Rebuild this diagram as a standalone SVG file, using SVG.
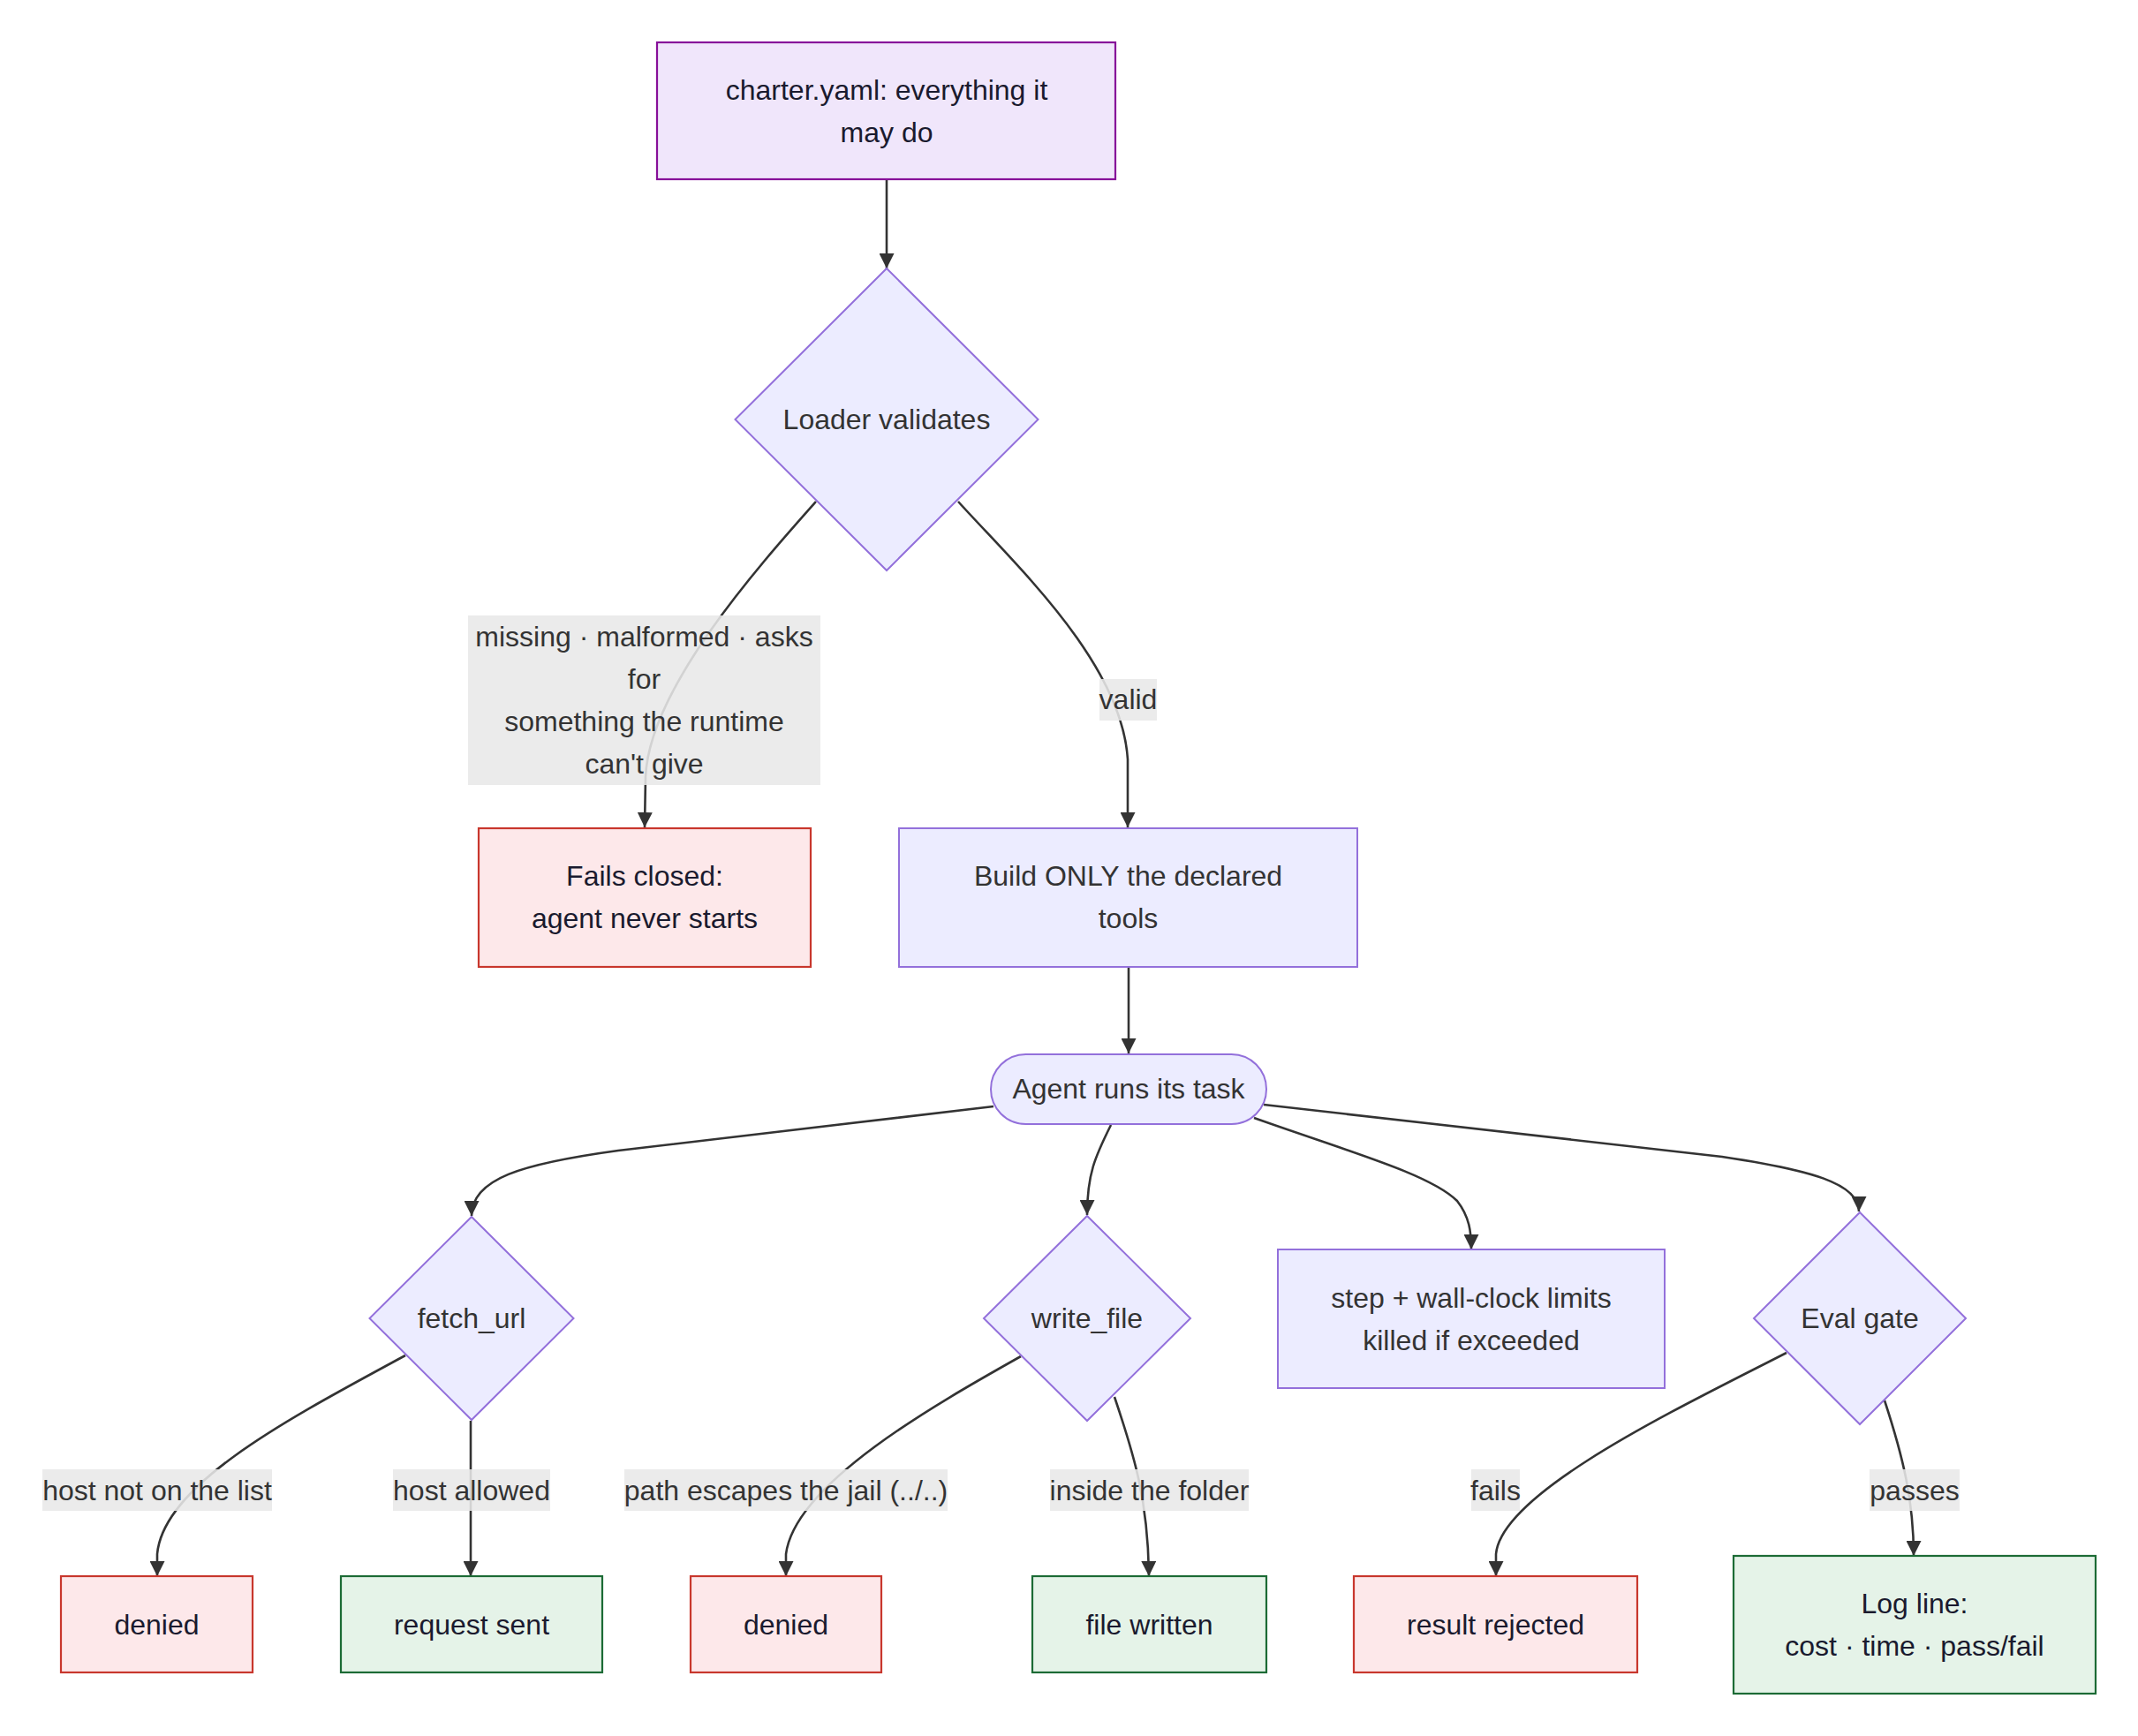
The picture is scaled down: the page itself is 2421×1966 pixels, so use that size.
<svg xmlns="http://www.w3.org/2000/svg" width="2421" height="1966" viewBox="0 0 2421 1966">
<defs>
<marker id="arr" viewBox="0 0 10 10" refX="10" refY="5" markerUnits="userSpaceOnUse" markerWidth="17" markerHeight="17" orient="auto">
<path d="M0,0 L10,5 L0,10 z" fill="#333"/>
</marker>
<style>
text{font-family:"Liberation Sans",Arial,Helvetica,sans-serif;font-size:32px;text-anchor:middle;dominant-baseline:central;fill:#333}
.def{fill:#ECECFF;stroke:#9370DB;stroke-width:2}
.cfg{fill:#f0e6fb;stroke:#870f99;stroke-width:2.2}
.bad{fill:#fde8ea;stroke:#c8372d;stroke-width:2.2}
.ok{fill:#e5f3e8;stroke:#1c6b35;stroke-width:2.2}
.dark{fill:#1a1a2e}
.edge{fill:none;stroke:#333;stroke-width:2.6;marker-end:url(#arr)}
.lbl{fill:rgba(232,232,232,0.88)}
</style>
</defs>
<rect width="2421" height="1966" fill="#ffffff"/>
<g id="connectors">
<path class="edge" d="M1004,204 L1004,304"/>
<path class="edge" d="M924,568 C860,640 735,780 731,880 L730,937"/>
<path class="edge" d="M1085,568 C1150,640 1270,750 1277,860 L1277,937"/>
<path class="edge" d="M1278,1095 L1278,1193"/>
<path class="edge" d="M1125,1253 L700,1303 C590,1318 534,1335 534,1377"/>
<path class="edge" d="M1258,1274 C1240,1310 1231,1330 1231,1376"/>
<path class="edge" d="M1420,1266 C1530,1305 1620,1330 1650,1360 C1664,1378 1666,1395 1666,1415"/>
<path class="edge" d="M1431,1251 L1950,1310 C2050,1325 2105,1340 2105,1372"/>
<path class="edge" d="M459,1535 C330,1605 185,1680 178,1760 L178,1785"/>
<path class="edge" d="M533,1609 L533,1785"/>
<path class="edge" d="M1156,1536 C1060,1590 900,1680 890,1760 L890,1785"/>
<path class="edge" d="M1262,1582 C1285,1650 1300,1700 1301,1785"/>
<path class="edge" d="M2023,1532 C1900,1595 1700,1690 1694,1760 L1694,1785"/>
<path class="edge" d="M2134,1586 C2155,1650 2167,1700 2167,1762"/>
</g>
<g id="edge-labels">
<g id="lbl-invalid"><rect class="lbl" x="530" y="697" width="399" height="192"/>
<text x="729.5" y="721">missing · malformed · asks</text>
<text x="729.5" y="769">for</text>
<text x="729.5" y="817">something the runtime</text>
<text x="729.5" y="865">can't give</text></g>
<g id="lbl-valid"><rect class="lbl" x="1245" y="769" width="65" height="47"/><text x="1277.5" y="792">valid</text></g>
<g id="lbl-hostno"><rect class="lbl" x="48" y="1664" width="260" height="47"/><text x="178" y="1688">host not on the list</text></g>
<g id="lbl-hostok"><rect class="lbl" x="445" y="1664" width="178" height="47"/><text x="534" y="1688">host allowed</text></g>
<g id="lbl-escape"><rect class="lbl" x="707" y="1664" width="366" height="47"/><text x="890" y="1688">path escapes the jail (../..)</text></g>
<g id="lbl-inside"><rect class="lbl" x="1189" y="1664" width="225" height="47"/><text x="1301.5" y="1688">inside the folder</text></g>
<g id="lbl-fails"><rect class="lbl" x="1666" y="1664" width="55" height="47"/><text x="1693.5" y="1688">fails</text></g>
<g id="lbl-passes"><rect class="lbl" x="2117" y="1664" width="102" height="47"/><text x="2168" y="1688">passes</text></g>
</g>
<g id="charter"><rect class="cfg" x="744" y="48" width="519" height="155"/>
<text class="dark" x="1004" y="101.5">charter.yaml: everything it</text>
<text class="dark" x="1004" y="149.5">may do</text></g>
<g id="loader"><polygon class="def" points="1004,304 1175.5,475 1004,646 832.5,475"/><text x="1004" y="475">Loader validates</text></g>
<g id="fails-closed"><rect class="bad" x="542" y="938" width="376" height="157"/>
<text class="dark" x="730" y="992">Fails closed:</text>
<text class="dark" x="730" y="1040">agent never starts</text></g>
<g id="build"><rect class="def" x="1018" y="938" width="519" height="157"/>
<text x="1277.5" y="992">Build ONLY the declared</text>
<text x="1277.5" y="1040">tools</text></g>
<g id="agent"><rect class="def" x="1122" y="1194" width="312" height="79" rx="39.5" ry="39.5"/><text x="1278" y="1233">Agent runs its task</text></g>
<g id="fetch"><polygon class="def" points="534,1378 649.5,1493 534,1608 418.5,1493"/><text x="534" y="1493">fetch_url</text></g>
<g id="write"><polygon class="def" points="1231,1377 1348,1493 1231,1609 1114,1493"/><text x="1231" y="1493">write_file</text></g>
<g id="limits"><rect class="def" x="1447" y="1415" width="438" height="157"/>
<text x="1666" y="1469.5">step + wall-clock limits</text>
<text x="1666" y="1517.5">killed if exceeded</text></g>
<g id="eval"><polygon class="def" points="2106,1373 2226,1493 2106,1613 1986,1493"/><text x="2106" y="1493">Eval gate</text></g>
<g id="denied1"><rect class="bad" x="69" y="1785" width="217" height="109"/><text class="dark" x="177.5" y="1839.5">denied</text></g>
<g id="request"><rect class="ok" x="386" y="1785" width="296" height="109"/><text class="dark" x="534" y="1839.5">request sent</text></g>
<g id="denied2"><rect class="bad" x="782" y="1785" width="216" height="109"/><text class="dark" x="890" y="1839.5">denied</text></g>
<g id="written"><rect class="ok" x="1169" y="1785" width="265" height="109"/><text class="dark" x="1301.5" y="1839.5">file written</text></g>
<g id="rejected"><rect class="bad" x="1533" y="1785" width="321" height="109"/><text class="dark" x="1693.5" y="1839.5">result rejected</text></g>
<g id="logline"><rect class="ok" x="1963" y="1762" width="410" height="156"/>
<text class="dark" x="2168" y="1816">Log line:</text>
<text class="dark" x="2168" y="1864">cost · time · pass/fail</text></g>
</svg>
